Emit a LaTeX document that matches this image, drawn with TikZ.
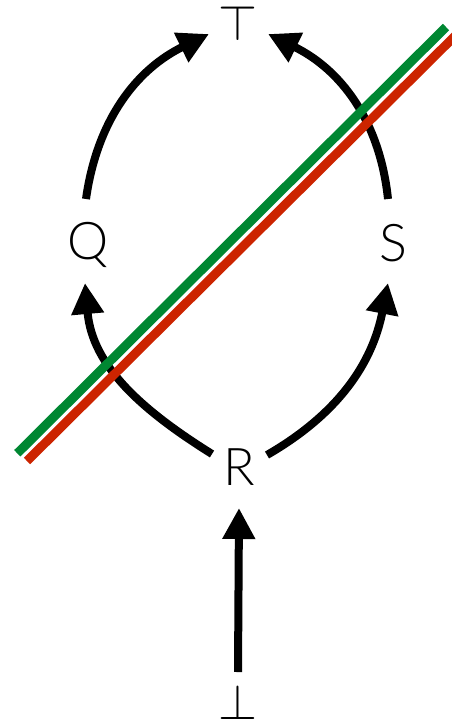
\RequirePackage{fix-cm}
\documentclass[tikz,border=0pt]{standalone}
\usepackage{fontspec}
\newfontfamily\lightfont{Lato Light}
\usetikzlibrary{arrows.meta}
\definecolor{cutgreen}{RGB}{0,135,50}
\definecolor{cutred}{RGB}{204,36,0}
\tikzset{
  lbl/.style={font=\lightfont\fontsize{52}{52}\selectfont, inner sep=0pt, text=black},
  sym/.style={font=\fontsize{50}{50}\selectfont, inner sep=0pt},
  arr/.style={line width=8pt, -{Triangle[length=31pt,width=31pt]}},
  cut/.style={line width=9pt, line cap=butt}
}
\begin{document}
\begin{tikzpicture}[x=1pt,y=-1pt]
\useasboundingbox (0,0) rectangle (451,721);
\node[sym] (T) at (238,23) {$\top$};
\node[lbl] (Q) at (88,245) {Q};
\node[lbl] (S) at (393,243) {S};
\node[lbl] (R) at (239,467) {R};
\node[sym] (B) at (238,702) {$\bot$};
% connectors
\draw[arr] ([shift={(-2,-46)}]Q.center) to[out=82,in=-154] ([shift={(-29,11)}]T.center);
\draw[arr] ([shift={(-5,-44)}]S.center) to[out=96,in=-26] ([shift={(30,11)}]T.center);
\draw[arr] ([shift={(-27,-13)}]R.center) to[out=148,in=-85] ([shift={(-3,38)}]Q.center);
\draw[arr] ([shift={(28,-12)}]R.center) to[out=30,in=-101] ([shift={(-5,40)}]S.center);
\draw[arr] ([shift={(0,-30)}]B.center) -- ([shift={(0,41)}]R.center);
% cut lines
\coordinate (g1) at (17.3,453.3);
\coordinate (g2) at (446,27);
\coordinate (r1) at (27,461);
\coordinate (r2) at (462,29);
\draw[cut, cutgreen] (g1) -- (g2);
\draw[cut, cutred] (r1) -- (r2);
\end{tikzpicture}
\end{document}
